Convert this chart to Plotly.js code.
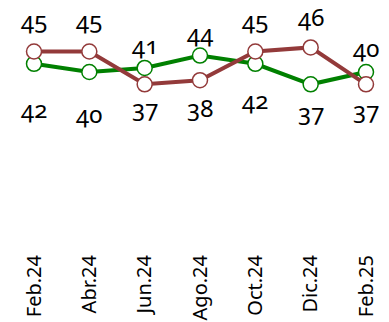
<!DOCTYPE html>
<html>
<head>
<meta charset="utf-8">
<script src="https://cdn.plot.ly/plotly-3.0.1.min.js"></script>
<style>
html,body{margin:0;padding:0;background:#fff;}
#chart{width:389px;height:322px;}
.annotation-text{font-feature-settings:"onum" 1;}
</style>
</head>
<body>
<div id="chart"></div>
<script>
const categories = ["Feb.24","Abr.24","Jun.24","Ago.24","Oct.24","Dic.24","Feb.25"];
const redValues = [45,45,37,38,45,46,37];
const greenValues = [42,40,41,44,42,37,40];

// label offsets (pixels, up positive) - styling only
const redLabelShift = [32,32,-23,-27,32,31,-25];
const greenLabelShift = [-45,-41,23,23,-36,-27,25];

const redColor = "#933a3a";
const greenColor = "#008000";

function lineTrace(vals, color){
  return {
    type:"scatter", mode:"lines+markers", x:categories, y:vals,
    line:{color:color, width:4},
    marker:{size:15, color:"#ffffff", line:{color:color, width:1.5}},
    cliponaxis:false, hoverinfo:"skip", showlegend:false
  };
}

const annotations = [];
function addLabels(vals, shifts){
  vals.forEach((v,i)=>{
    annotations.push({
      x:categories[i], y:v, xref:"x", yref:"y", text:String(v),
      showarrow:false, yshift:shifts[i], yanchor:"middle", xanchor:"center",
      font:{family:"Noto Sans", size:24, color:"#000"}
    });
  });
}
addLabels(redValues, redLabelShift);
addLabels(greenValues, greenLabelShift);

const layout = {
  width:389, height:322,
  margin:{l:0, r:0, t:31, b:86},
  paper_bgcolor:"#fff", plot_bgcolor:"#fff",
  xaxis:{type:"category", range:[-0.6145, 6.4157], showgrid:false, zeroline:false,
         showline:false, ticks:"", tickangle:-90,
         tickfont:{family:"Noto Sans", size:20, color:"#000"}, ticklabelstandoff:14},
  yaxis:{range:[0,50], visible:false, showgrid:false, zeroline:false},
  annotations:annotations
};

Plotly.newPlot("chart", [lineTrace(greenValues, greenColor), lineTrace(redValues, redColor)], layout, {staticPlot:true, displayModeBar:false});
</script>
</body>
</html>
